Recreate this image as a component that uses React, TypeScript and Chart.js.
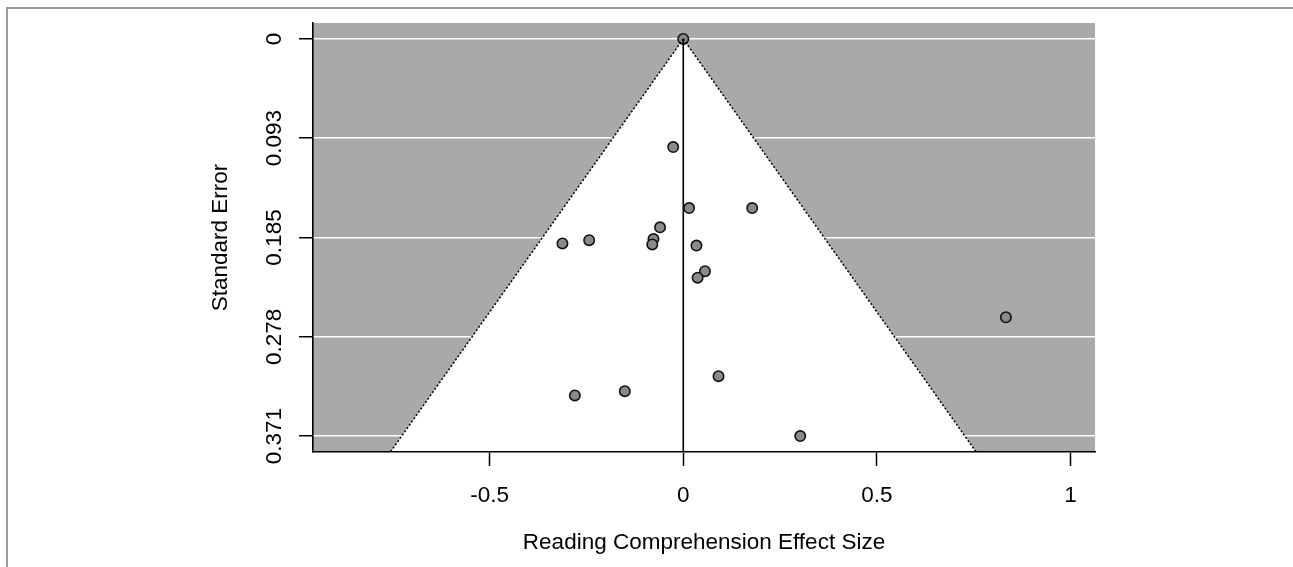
import React, { useEffect, useRef } from "react";
import { Chart, registerables } from "chart.js";

Chart.register(...registerables);

// ---- Data ----
const effectSizes = [0, -0.026, 0.015, 0.178, -0.06, -0.077, -0.08, 0.034, -0.312, -0.243, 0.056, 0.037, 0.833, 0.091, 0.302, -0.28, -0.151];
const standardErrors = [0, 0.101, 0.158, 0.158, 0.176, 0.187, 0.192, 0.193, 0.191, 0.188, 0.217, 0.223, 0.26, 0.315, 0.371, 0.333, 0.329];
const yTickValues = [0, 0.09275, 0.1855, 0.27825, 0.371];
const yTickLabels = ["0", "0.093", "0.185", "0.278", "0.371"];
const xTickValues = [-0.5, 0, 0.5, 1];
const xTickLabels = ["-0.5", "0", "0.5", "1"];
const funnelCenter = 0;
const zCrit = 1.96;
const xMin = -0.956;
const xMax = 1.063;
const yMin = -0.01484;
const yMax = 0.38584;
const xTitle = "Reading Comprehension Effect Size";
const yTitle = "Standard Error";

const FONT = '22.5px "Liberation Sans", Arial, Helvetica, sans-serif';

const funnelPlugin = {
  id: "funnelPlugin",
  beforeDraw(chart: any) {
    const { ctx, chartArea: a, scales } = chart;
    const x = scales.x;
    const y = scales.y;
    ctx.save();
    ctx.fillStyle = "#ffffff";
    ctx.fillRect(0, 0, chart.width, chart.height);
    // frame lines (top and left) of the figure
    ctx.strokeStyle = "#9c9c9c";
    ctx.lineWidth = 2;
    ctx.beginPath();
    ctx.moveTo(7, chart.height);
    ctx.lineTo(7, 8);
    ctx.lineTo(chart.width, 8);
    ctx.stroke();
    // grey plot background
    ctx.fillStyle = "#a9a9a9";
    ctx.fillRect(a.left, a.top, a.right - a.left, a.bottom - a.top);
    // white funnel region
    ctx.beginPath();
    ctx.moveTo(x.getPixelForValue(funnelCenter), y.getPixelForValue(0));
    ctx.lineTo(x.getPixelForValue(funnelCenter - zCrit * yMax), y.getPixelForValue(yMax));
    ctx.lineTo(x.getPixelForValue(funnelCenter + zCrit * yMax), y.getPixelForValue(yMax));
    ctx.closePath();
    ctx.fillStyle = "#ffffff";
    ctx.fill();
    ctx.restore();
  },
  afterDraw(chart: any) {
    const { ctx, chartArea: a, scales } = chart;
    const x = scales.x;
    const y = scales.y;
    ctx.save();
    ctx.fillStyle = "#000000";
    ctx.font = FONT;
    // x tick labels
    ctx.textAlign = "center";
    ctx.textBaseline = "alphabetic";
    xTickValues.forEach((v, i) => {
      ctx.fillText(xTickLabels[i], x.getPixelForValue(v), 502);
    });
    // x title
    ctx.fillText(xTitle, (a.left + a.right) / 2, 549);
    // y tick labels (rotated)
    yTickValues.forEach((v, i) => {
      ctx.save();
      ctx.translate(281, y.getPixelForValue(v));
      ctx.rotate(-Math.PI / 2);
      ctx.fillText(yTickLabels[i], 0, 0);
      ctx.restore();
    });
    // y title
    ctx.save();
    ctx.translate(227, (a.top + a.bottom) / 2);
    ctx.rotate(-Math.PI / 2);
    ctx.fillText(yTitle, 0, 0);
    ctx.restore();
    ctx.restore();
  },
};

export default function App() {
  const canvasRef = useRef<HTMLCanvasElement | null>(null);

  useEffect(() => {
    if (!canvasRef.current) return;
    const points = effectSizes.map((v, i) => ({ x: v, y: standardErrors[i] }));
    const chart = new Chart(canvasRef.current, {
      type: "scatter",
      data: {
        datasets: [
          {
            label: "funnel-left",
            data: [
              { x: funnelCenter, y: 0 },
              { x: funnelCenter - zCrit * yMax, y: yMax },
            ],
            showLine: true,
            borderColor: "#000000",
            borderWidth: 1.5,
            borderDash: [2, 2],
            pointRadius: 0,
          },
          {
            label: "funnel-right",
            data: [
              { x: funnelCenter, y: 0 },
              { x: funnelCenter + zCrit * yMax, y: yMax },
            ],
            showLine: true,
            borderColor: "#000000",
            borderWidth: 1.5,
            borderDash: [2, 2],
            pointRadius: 0,
          },
          {
            label: "center",
            data: [
              { x: funnelCenter, y: 0 },
              { x: funnelCenter, y: yMax },
            ],
            showLine: true,
            borderColor: "#000000",
            borderWidth: 1.6,
            pointRadius: 0,
          },
          {
            label: "studies",
            data: points,
            pointRadius: 5.2,
            pointBackgroundColor: "#8a8a8a",
            pointBorderColor: "#111111",
            pointBorderWidth: 1.6,
          },
        ],
      },
      options: {
        animation: false,
        responsive: false,
        maintainAspectRatio: false,
        events: [],
        layout: { padding: { top: 23, right: 198, left: 0, bottom: 0 } },
        plugins: {
          legend: { display: false },
          tooltip: { enabled: false },
        },
        scales: {
          x: {
            type: "linear",
            min: xMin,
            max: xMax,
            afterBuildTicks: (scale: any) => {
              scale.ticks = xTickValues.map((v) => ({ value: v }));
            },
            afterFit: (scale: any) => {
              scale.height = 115;
            },
            ticks: { display: false },
            grid: {
              drawOnChartArea: false,
              drawTicks: true,
              tickLength: 14,
              tickColor: "#000000",
              tickWidth: 1.5,
            },
            border: { display: true, color: "#000000", width: 1.6 },
          },
          y: {
            type: "linear",
            reverse: true,
            min: yMin,
            max: yMax,
            afterBuildTicks: (scale: any) => {
              scale.ticks = yTickValues.map((v) => ({ value: v }));
            },
            afterFit: (scale: any) => {
              scale.width = 313;
            },
            ticks: { display: false },
            grid: {
              color: "#ffffff",
              lineWidth: 1.5,
              drawTicks: true,
              tickLength: 14,
              tickColor: "#000000",
              tickWidth: 1.5,
            },
            border: { display: true, color: "#000000", width: 1.6 },
          },
        },
      } as any,
      plugins: [funnelPlugin],
    });
    return () => chart.destroy();
  }, []);

  return (
    <div style={{ position: "fixed", left: 0, top: 0, width: 1293, height: 567, background: "#ffffff" }}>
      <canvas ref={canvasRef} width={1293} height={567} style={{ width: 1293, height: 567, display: "block" }} />
    </div>
  );
}
